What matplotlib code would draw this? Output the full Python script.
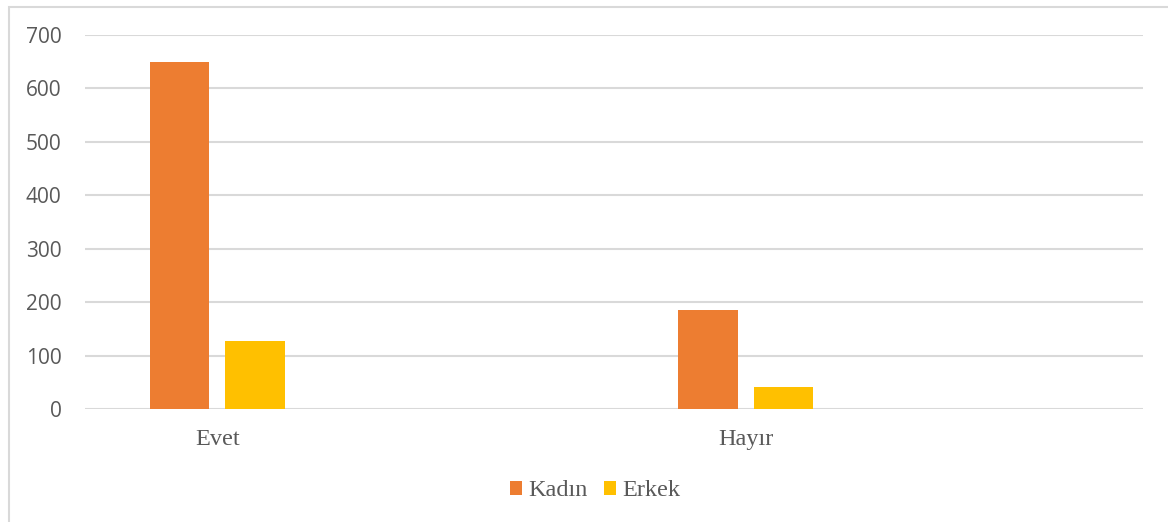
import matplotlib
matplotlib.use("Agg")
import matplotlib.pyplot as plt
from matplotlib.patches import Rectangle, Patch

categories = ["Evet", "Hayır"]
series_names = ["Kadın", "Erkek"]
kadin = [649, 186]
erkek = [128, 41]
yticks = [0, 100, 200, 300, 400, 500, 600, 700]

colors = ["#ED7D31", "#FFC000"]
W, H = 1168, 522
fig = plt.figure(figsize=(W / 100, H / 100), dpi=100)
fig.patch.set_facecolor("white")

# chart border
fig.patches.append(Rectangle((8.5 / W, -0.05), 1.1, (H - 6.5) / H + 0.05,
                             transform=fig.transFigure, fill=False,
                             edgecolor="#D9D9D9", linewidth=1.5))

ax = fig.add_axes([85 / W, (H - 409.3) / H, (1142.5 - 85) / W, (409.3 - 35) / H])
ax.set_facecolor("none")

xpos = [0, 2]
bw = 0.225
off = 0.143
ax.bar([x - off for x in xpos], kadin, width=bw, color=colors[0], zorder=3)
ax.bar([x + off for x in xpos], erkek, width=bw, color=colors[1], zorder=3)

ax.set_xlim(-0.5, 3.5)
ax.set_ylim(0, 700)
ax.set_yticks(yticks)
ax.set_yticklabels([str(v) for v in yticks], fontsize=15, color="#595959",
                   family=["Open Sans", "DejaVu Sans"])
ax.set_xticks(xpos)
ax.set_xticklabels(categories, fontsize=17.5, color="#595959",
                   family=["Liberation Serif"])
ax.tick_params(axis="both", length=0)
ax.tick_params(axis="y", pad=17)
ax.tick_params(axis="x", pad=14)
ax.grid(axis="y", color="#D9D9D9", linewidth=1.5, zorder=0)
for s in ax.spines.values():
    s.set_visible(False)

handles = [Patch(facecolor=c, edgecolor="none") for c in colors]
leg = fig.legend(handles, series_names, loc="center", bbox_to_anchor=(595 / W, (H - 491) / H),
                 ncol=2, frameon=False, handlelength=0.5, handleheight=0.5,
                 handletextpad=0.25, columnspacing=0.7,
                 prop={"family": "Liberation Serif", "size": 17.5})
for t in leg.get_texts():
    t.set_color("#595959")

fig.savefig("out.png", dpi=100, facecolor="white")
